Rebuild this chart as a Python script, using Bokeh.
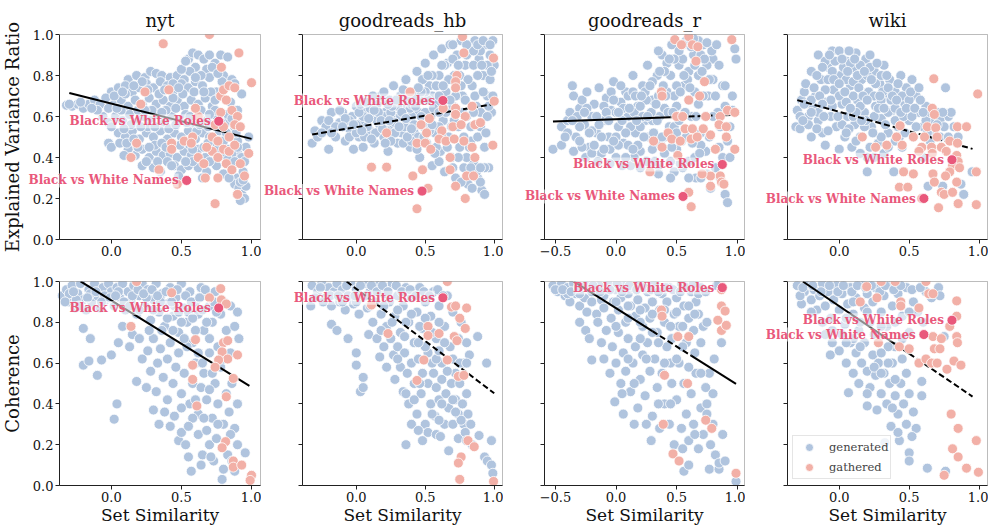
import math
from bokeh.plotting import figure
from bokeh.layouts import row, column
from bokeh.models import (Label, Legend, LegendItem, FixedTicker, Range1d, BoxAnnotation)
from bokeh.embed import file_html
from bokeh.resources import INLINE

datasets = ["nyt", "goodreads_hb", "goodreads_r", "wiki"]
metric_keys = ["evr", "coh"]
metric_names = ["Explained Variance Ratio", "Coherence"]
x_label = "Set Similarity"
y_ticks = [0.0, 0.2, 0.4, 0.6, 0.8, 1.0]
x_ticks = [-0.5, 0.0, 0.5, 1.0]
tick_text = {-0.5: "\u22120.5", 0.0: "0.0", 0.2: "0.2", 0.4: "0.4", 0.5: "0.5", 0.6: "0.6", 0.8: "0.8", 1.0: "1.0"}
legend_labels = ["generated", "gathered"]

# ---------------- data: (set similarity, metric) ----------------
nyt_evr_generated = [
    (0.12,0.78),(0.18,0.8),(0.24,0.79),(0.28,0.82),(0.32,0.81),(0.36,0.8),(0.42,0.79),(0.47,0.8),(0.52,0.78),
    (0.55,0.88),(0.58,0.91),(0.62,0.9),(0.66,0.88),(0.7,0.9),(0.74,0.86),(0.78,0.9),(0.83,0.89),(0.6,0.84),
    (0.68,0.83),(0.8,0.8),(0.86,0.78),
    (0.0,0.72),(0.05,0.74),(0.1,0.75),(0.15,0.72),(0.2,0.74),(0.25,0.76),(0.3,0.74),(0.35,0.77),(0.4,0.75),
    (0.45,0.73),(0.5,0.76),(0.55,0.74),(0.6,0.77),(0.65,0.75),(0.7,0.79),(0.75,0.72),(0.82,0.75),(0.88,0.76),(0.93,0.71),
    (-0.32,0.655),(-0.28,0.65),(-0.24,0.66),(-0.2,0.64),(-0.16,0.66),(-0.12,0.68),(-0.08,0.66),(-0.04,0.69),(0.02,0.66),
    (0.07,0.68),(0.12,0.65),(0.17,0.68),(0.22,0.66),(0.27,0.69),(0.32,0.66),(0.37,0.68),(0.42,0.65),(0.47,0.68),
    (0.52,0.65),(0.57,0.68),(0.62,0.66),(0.67,0.69),(0.72,0.65),(0.85,0.67),(0.9,0.63),
    (-0.06,0.6),(-0.02,0.57),(0.03,0.6),(0.08,0.58),(0.13,0.61),(0.18,0.57),(0.23,0.6),(0.28,0.58),(0.33,0.61),
    (0.38,0.57),(0.43,0.6),(0.48,0.58),(0.53,0.61),(0.58,0.56),(0.63,0.6),(0.68,0.58),(0.73,0.61),(0.82,0.57),(0.88,0.55),
    (0.05,0.52),(0.1,0.5),(0.15,0.53),(0.2,0.49),(0.25,0.52),(0.3,0.5),(0.35,0.53),(0.4,0.49),(0.45,0.52),(0.5,0.5),
    (0.55,0.53),(0.6,0.49),(0.65,0.52),(0.7,0.5),(0.75,0.47),(0.85,0.5),(0.9,0.48),(0.98,0.5),(-0.02,0.47),(0.0,0.45),
    (0.12,0.44),(0.17,0.41),(0.22,0.44),(0.27,0.4),(0.32,0.43),(0.37,0.41),(0.42,0.42),(0.47,0.4),(0.52,0.43),
    (0.57,0.41),(0.62,0.44),(0.67,0.4),(0.72,0.43),(0.78,0.41),(0.84,0.44),(0.9,0.42),(0.96,0.45),(0.14,0.4),
    (0.22,0.36),(0.3,0.35),(0.35,0.33),(0.45,0.36),(0.5,0.34),(0.55,0.36),(0.62,0.35),(0.68,0.33),(0.75,0.36),
    (0.8,0.32),(0.86,0.35),(0.9,0.3),(0.94,0.33),
    (0.88,0.27),(0.91,0.25),(0.93,0.22),(0.95,0.2),(0.92,0.19),(0.96,0.26),(0.9,0.22),
    (0.02,0.7),(0.07,0.63),(0.1,0.71),(0.14,0.56),(0.19,0.63),(0.22,0.77),(0.26,0.55),(0.29,0.63),(0.31,0.46),
    (0.34,0.71),(0.39,0.63),(0.41,0.54),(0.44,0.69),(0.46,0.56),(0.49,0.46),(0.51,0.71),(0.54,0.57),(0.56,0.46),
    (0.59,0.72),(0.61,0.53),(0.64,0.63),(0.66,0.45),(0.69,0.55),(0.71,0.72),(0.74,0.63),(0.77,0.53),(0.8,0.48),
    (0.83,0.61),(0.86,0.42),(0.89,0.52),(0.93,0.4),(0.79,0.77),(0.72,0.84),(0.64,0.8),(0.56,0.82),(0.5,0.83),
    (0.44,0.76),(0.38,0.73),(0.27,0.45),(0.36,0.47),(0.25,0.38),(0.4,0.38),(0.58,0.38),(0.7,0.38),(0.83,0.39),
    (0.95,0.38),(-0.1,0.63),(-0.02,0.64),(0.06,0.47),(0.09,0.41),(0.19,0.45),(0.48,0.31),(0.65,0.3),(0.84,0.3),(0.92,0.28),
    (0.0,0.55),(0.04,0.64),(0.09,0.54),(0.11,0.47),(0.16,0.49),(0.21,0.55),(0.24,0.63),(0.26,0.73),(0.31,0.55),
    (0.33,0.38),(0.36,0.62),(0.39,0.45),(0.43,0.36),(0.46,0.64),(0.48,0.74),(0.53,0.38),(0.56,0.6),(0.58,0.44),
    (0.63,0.56),(0.66,0.72),(0.69,0.47),(0.7,0.61),(0.74,0.68),(0.76,0.44),(0.78,0.57),(0.82,0.52),(0.86,0.59),
    (0.88,0.38),(0.9,0.45),(0.94,0.29),(0.6,0.79),(0.53,0.87),(0.76,0.81),(0.16,0.75),(0.08,0.72),(-0.14,0.64),
    (-0.22,0.67),(-0.3,0.66),
]
nyt_evr_gathered = [
    (0.70,1.0),(0.37,0.955),(0.91,0.91),(1.0,0.765),(0.785,0.84),(0.24,0.72),(0.41,0.73),(0.21,0.66),(0.62,0.6),
    (0.6,0.64),(0.78,0.7),(0.8,0.73),(0.84,0.75),(0.88,0.74),(0.82,0.68),(0.86,0.63),(0.9,0.6),(0.78,0.62),
    (0.74,0.56),(0.8,0.55),(0.84,0.5),(0.88,0.56),(0.92,0.55),(0.72,0.5),(0.76,0.48),(0.8,0.44),(0.84,0.43),
    (0.88,0.46),(0.72,0.43),(0.68,0.45),(0.76,0.4),(0.82,0.37),(0.86,0.34),(0.92,0.37),(0.95,0.31),(0.98,0.42),
    (0.18,0.47),(0.14,0.4),(0.34,0.34),(0.43,0.47),(0.43,0.44),(0.52,0.48),(0.58,0.5),(0.57,0.47),(0.47,0.27),
    (0.74,0.175),(0.76,0.3),(0.67,0.3),(0.9,0.22),(0.62,0.4),(0.66,0.37),
]
goodreads_hb_evr_generated = [
    (-0.32,0.47),(-0.3,0.53),(-0.28,0.5),(-0.25,0.58),(-0.22,0.55),(-0.2,0.44),(-0.18,0.62),(-0.15,0.5),(-0.12,0.57),
    (-0.1,0.62),(-0.08,0.48),(-0.05,0.54),(-0.03,0.6),(-0.02,0.44),(0.0,0.65),(0.02,0.5),(0.04,0.57),(0.05,0.45),
    (0.07,0.62),(0.08,0.68),(0.1,0.53),(0.12,0.6),(0.13,0.47),(0.15,0.66),(0.17,0.56),(0.18,0.7),(0.2,0.5),
    (0.21,0.62),(0.23,0.43),(0.24,0.68),(0.26,0.55),(0.27,0.75),(0.29,0.6),(0.3,0.47),(0.32,0.7),(0.33,0.52),
    (0.35,0.64),(0.36,0.78),(0.38,0.58),(0.39,0.45),(0.41,0.72),(0.42,0.52),(0.44,0.82),(0.45,0.62),(0.46,0.4),
    (0.48,0.68),(0.49,0.55),(0.5,0.86),(0.51,0.47),(0.53,0.75),(0.54,0.6),(0.55,0.36),(0.56,0.9),(0.57,0.52),
    (0.58,0.67),(0.6,0.8),(0.61,0.43),(0.62,0.93),(0.63,0.58),(0.64,0.33),(0.65,0.72),(0.66,0.86),(0.67,0.5),
    (0.68,0.95),(0.69,0.4),(0.7,0.65),(0.71,0.8),(0.72,0.3),(0.73,0.9),(0.74,0.55),(0.75,0.45),(0.76,0.97),
    (0.77,0.7),(0.78,0.35),(0.79,0.85),(0.8,0.6),(0.81,0.27),(0.82,0.93),(0.83,0.48),(0.84,0.75),(0.85,0.38),
    (0.86,0.97),(0.87,0.65),(0.88,0.3),(0.89,0.88),(0.9,0.55),(0.91,0.24),(0.92,0.8),(0.93,0.45),(0.94,0.95),
    (0.95,0.7),(0.96,0.35),(0.97,0.9),(0.98,0.62),(0.99,0.97),(1.0,0.85),(0.93,0.22),(0.9,0.28),(0.87,0.33),
    (-0.05,0.58),(0.0,0.56),(0.05,0.6),(0.1,0.64),(0.15,0.58),(0.2,0.6),(0.25,0.62),(0.3,0.65),(0.35,0.55),
    (0.4,0.6),(0.45,0.5),(0.5,0.62),(0.55,0.7),(0.6,0.55),(0.02,0.62),(0.08,0.55),(0.14,0.52),(0.22,0.53),
    (0.28,0.52),(0.34,0.47),(0.4,0.48),(0.12,0.7),(0.2,0.72),(0.26,0.65),(0.32,0.6),(0.37,0.68),(0.43,0.7),
    (0.48,0.78),(0.52,0.68),(0.58,0.75),(0.64,0.85),(0.7,0.88),(0.75,0.8),(0.8,0.9),(0.85,0.85),(0.9,0.92),
    (0.95,0.85),(0.6,0.38),(0.7,0.35),(0.8,0.4),(0.76,0.28),(0.84,0.25),
    (-0.25,0.52),(-0.2,0.58),(-0.15,0.55),(-0.12,0.63),(-0.08,0.59),(-0.05,0.5),(0.0,0.52),(0.03,0.66),(0.06,0.5),
    (0.09,0.59),(0.11,0.49),(0.16,0.62),(0.19,0.54),(0.23,0.66),(0.25,0.48),(0.28,0.57),(0.31,0.55),(0.34,0.73),
    (0.37,0.5),(0.39,0.64),(0.42,0.56),(0.44,0.44),(0.47,0.6),(0.5,0.72),(0.53,0.53),(0.56,0.64),(0.58,0.45),
    (0.6,0.7),(0.62,0.5),(0.65,0.62),(0.67,0.78),(0.69,0.55),(0.72,0.7),(0.74,0.85),(0.77,0.62),(0.78,0.5),
    (0.81,0.78),(0.83,0.55),(0.86,0.7),(0.88,0.8),(0.9,0.62),(0.92,0.72),(0.93,0.35),(0.95,0.6),(0.97,0.78),
    (0.99,0.7),(0.85,0.92),(0.88,0.95),(0.92,0.97),(0.97,0.95),(0.55,0.8),(0.47,0.72),(0.4,0.66),
    (-0.18,0.52),(-0.1,0.55),(-0.02,0.56),(0.04,0.53),(0.07,0.67),(0.13,0.63),(0.18,0.58),(0.21,0.47),(0.24,0.58),
    (0.29,0.68),(0.33,0.62),(0.36,0.59),(0.4,0.54),(0.43,0.65),(0.45,0.74),(0.49,0.5),(0.52,0.8),(0.55,0.56),
    (0.57,0.42),(0.6,0.62),(0.63,0.75),(0.66,0.45),(0.68,0.68),(0.71,0.58),(0.74,0.4),(0.76,0.75),(0.79,0.68),
    (0.82,0.45),(0.85,0.62),(0.88,0.5),(0.91,0.85),(0.94,0.52),(0.96,0.65),(0.98,0.82),(0.9,0.35),(0.83,0.35),
    (0.62,0.85),(0.7,0.95),(0.8,0.95),
]
goodreads_hb_evr_gathered = [
    (0.77,0.99),(0.78,0.91),(0.995,0.885),(0.73,0.8),(0.72,0.77),(0.72,0.74),(0.39,0.72),(1.0,0.675),(0.63,0.64),
    (0.72,0.64),(0.84,0.65),(0.53,0.59),(0.72,0.61),(0.79,0.6),(0.47,0.56),(0.22,0.52),(0.51,0.52),(0.62,0.53),
    (0.7,0.55),(0.76,0.56),(0.86,0.56),(0.9,0.57),(0.44,0.47),(0.5,0.47),(0.6,0.49),(0.65,0.48),(0.71,0.49),
    (0.78,0.48),(0.84,0.45),(0.99,0.46),(0.54,0.44),(0.68,0.4),(0.86,0.4),(0.11,0.353),(0.22,0.353),(0.41,0.31),
    (0.48,0.34),(0.68,0.34),(0.8,0.31),(0.85,0.31),(0.52,0.25),(0.72,0.26),(0.79,0.2),(0.44,0.15),
]
goodreads_r_evr_generated = [
    (-0.52,0.44),(-0.45,0.46),(-0.45,0.55),(-0.4,0.58),(-0.36,0.75),(-0.35,0.7),(-0.33,0.5),(-0.3,0.64),(-0.28,0.68),
    (-0.26,0.56),(-0.24,0.72),(-0.22,0.45),(-0.2,0.6),(-0.18,0.66),(-0.16,0.52),(-0.14,0.74),(-0.12,0.42),(-0.1,0.58),
    (-0.08,0.69),(-0.06,0.5),(-0.04,0.63),(-0.02,0.77),(0.0,0.4),(0.02,0.55),(0.04,0.67),(0.06,0.47),(0.08,0.72),
    (0.1,0.6),(0.12,0.36),(0.14,0.8),(0.16,0.52),(0.18,0.65),(0.2,0.43),(0.22,0.75),(0.24,0.58),(0.26,0.85),
    (0.28,0.35),(0.3,0.68),(0.32,0.5),(0.34,0.8),(0.36,0.6),(0.38,0.9),(0.4,0.42),(0.42,0.72),(0.44,0.55),
    (0.46,0.95),(0.48,0.33),(0.5,0.65),(0.52,0.85),(0.54,0.48),(0.56,0.75),(0.58,0.97),(0.6,0.38),(0.62,0.6),
    (0.64,0.9),(0.66,0.3),(0.68,0.8),(0.7,0.52),(0.72,0.95),(0.74,0.43),(0.76,0.7),(0.78,0.25),(0.8,0.88),
    (0.82,0.35),(0.84,0.62),(0.86,0.3),(0.88,0.75),(0.9,0.22),(0.92,0.18),(0.94,0.55),(0.96,0.7),(0.98,0.93),
    (0.99,0.88),(0.96,0.63),
    (-0.4,0.52),(-0.3,0.55),(-0.2,0.53),(-0.1,0.65),(0.0,0.62),(0.05,0.58),(0.1,0.7),(0.15,0.62),(0.2,0.55),
    (0.25,0.68),(0.3,0.58),(0.35,0.7),(0.4,0.64),(0.45,0.8),(0.5,0.75),(0.55,0.88),(0.6,0.82),(0.65,0.72),
    (0.7,0.9),(0.75,0.85),(-0.35,0.43),(-0.25,0.4),(-0.15,0.38),(-0.05,0.37),(0.05,0.36),(0.15,0.4),(0.25,0.38),
    (0.35,0.36),(0.45,0.38),(0.55,0.35),(0.65,0.4),(0.75,0.32),(0.1,0.46),(0.3,0.44),(0.5,0.44),(0.7,0.46),
    (0.0,0.5),(0.2,0.65),(0.4,0.5),(0.6,0.68),(0.8,0.78),(0.62,0.94),(0.68,0.97),(0.52,0.92),(0.42,0.86),
    (0.48,0.55),(0.58,0.5),(0.35,0.92),(0.3,0.77),(0.14,0.72),(-0.04,0.72),
    (-0.38,0.62),(-0.32,0.6),(-0.28,0.45),(-0.24,0.64),(-0.2,0.42),(-0.16,0.6),(-0.12,0.5),(-0.08,0.62),(-0.05,0.44),
    (-0.02,0.68),(0.02,0.46),(0.06,0.64),(0.08,0.4),(0.12,0.55),(0.16,0.7),(0.18,0.46),(0.22,0.6),(0.24,0.72),
    (0.27,0.5),(0.29,0.62),(0.32,0.38),(0.34,0.58),(0.37,0.46),(0.39,0.75),(0.43,0.62),(0.46,0.45),(0.48,0.7),
    (0.52,0.58),(0.53,0.37),(0.57,0.62),(0.59,0.78),(0.63,0.47),(0.66,0.6),(0.69,0.42),(0.72,0.7),(0.74,0.6),
    (0.77,0.5),(0.79,0.92),(0.82,0.7),(0.85,0.85),(0.88,0.4),(0.9,0.65),(0.92,0.48),(0.94,0.4),(0.85,0.45),
    (0.7,0.3),(0.6,0.3),(0.45,0.3),(0.35,0.32),(0.2,0.35),(0.55,0.95),(0.64,0.98),(0.75,0.96),(0.48,0.88),(0.4,0.82),
    (-0.42,0.5),(-0.36,0.58),(-0.3,0.48),(-0.26,0.62),(-0.22,0.52),(-0.18,0.46),(-0.14,0.56),(-0.1,0.44),(-0.06,0.58),
    (-0.02,0.48),(0.02,0.62),(0.04,0.75),(0.08,0.52),(0.11,0.64),(0.14,0.44),(0.17,0.58),(0.21,0.7),(0.23,0.5),
    (0.26,0.6),(0.28,0.75),(0.31,0.52),(0.33,0.66),(0.36,0.82),(0.38,0.5),(0.41,0.7),(0.44,0.88),(0.47,0.62),
    (0.5,0.52),(0.53,0.72),(0.56,0.8),(0.61,0.74),(0.65,0.85),(0.68,0.66),(0.71,0.82),(0.73,0.88),(0.77,0.78),
    (0.8,0.6),(0.83,0.95),(0.86,0.55),(0.9,0.75),
]
goodreads_r_evr_gathered = [
    (0.485,0.975),(0.54,0.95),(0.6,0.99),(0.63,0.95),(0.675,0.94),(0.66,0.87),(0.955,0.975),(0.73,0.77),(0.375,0.72),
    (0.38,0.70),(0.6,0.68),(0.69,0.70),(0.5,0.6),(0.55,0.6),(0.74,0.6),(0.86,0.6),(0.92,0.63),(0.98,0.62),
    (0.85,0.56),(0.91,0.55),(0.57,0.54),(0.63,0.54),(0.72,0.54),(0.43,0.52),(0.31,0.48),(0.38,0.45),(0.46,0.49),
    (0.53,0.48),(0.62,0.49),(0.67,0.5),(0.78,0.51),(0.82,0.44),(0.91,0.5),(0.98,0.44),(0.51,0.41),(0.28,0.33),
    (0.78,0.31),(0.86,0.31),(0.87,0.28),(0.89,0.27),(0.78,0.26),(0.6,0.23),(0.62,0.16),(0.71,0.32),
]
wiki_evr_generated = [
    (-0.31,0.55),(-0.28,0.54),(-0.3,0.63),(-0.27,0.68),(-0.25,0.72),(-0.24,0.76),(-0.22,0.6),(-0.2,0.5),(-0.19,0.65),
    (-0.17,0.7),(-0.15,0.9),(-0.15,0.58),(-0.13,0.78),(-0.12,0.52),(-0.1,0.67),(-0.1,0.46),(-0.08,0.84),(-0.06,0.6),
    (-0.05,0.92),(-0.04,0.73),(-0.02,0.55),(0.0,0.92),(0.0,0.44),(0.01,0.8),(0.02,0.66),(0.04,0.5),(0.05,0.87),
    (0.06,0.6),(0.08,0.75),(0.09,0.45),(0.1,0.83),(0.11,0.56),(0.12,0.91),(0.13,0.68),(0.15,0.5),(0.16,0.78),
    (0.18,0.62),(0.19,0.88),(0.2,0.4),(0.21,0.72),(0.22,0.9),(0.23,0.55),(0.25,0.82),(0.26,0.65),(0.28,0.47),
    (0.29,0.76),(0.3,0.59),(0.32,0.85),(0.33,0.7),(0.35,0.52),(0.36,0.78),(0.38,0.63),(0.39,0.33),(0.4,0.72),
    (0.42,0.55),(0.44,0.8),(0.45,0.45),(0.47,0.66),(0.48,0.74),(0.5,0.58),(0.52,0.78),(0.53,0.5),(0.55,0.7),
    (0.57,0.62),(0.6,0.55),(0.62,0.65),(0.65,0.48),(0.67,0.58),(0.7,0.62),(0.72,0.5),(0.76,0.74),(0.78,0.6),
    (0.8,0.62),(0.82,0.55),(0.85,0.5),(0.635,0.26),(0.74,0.26),(0.89,0.22),(0.87,0.27),(0.95,0.33),(0.6,0.4),(0.2,0.33),
    (-0.2,0.68),(-0.1,0.73),(0.0,0.7),(0.05,0.78),(0.1,0.7),(0.15,0.65),(0.2,0.8),(0.25,0.7),(0.3,0.68),
    (-0.05,0.82),(0.05,0.67),(0.15,0.85),(0.25,0.6),(-0.15,0.62),(-0.05,0.65),(0.1,0.6),(0.3,0.8),(0.35,0.62),
    (0.4,0.58),(0.45,0.7),(0.02,0.56),(-0.08,0.53),(0.12,0.48),(0.3,0.5),(0.4,0.48),(0.18,0.55),(0.25,0.4),
    (0.32,0.42),(-0.2,0.82),(-0.1,0.87),(0.07,0.92),
    (-0.28,0.6),(-0.25,0.66),(-0.22,0.56),(-0.18,0.74),(-0.16,0.54),(-0.14,0.7),(-0.12,0.84),(-0.11,0.6),(-0.08,0.78),
    (-0.06,0.68),(-0.03,0.87),(-0.01,0.6),(0.03,0.84),(0.04,0.72),(0.07,0.54),(0.08,0.86),(0.1,0.77),(0.12,0.62),
    (0.14,0.74),(0.17,0.7),(0.19,0.58),(0.2,0.68),(0.22,0.84),(0.24,0.52),(0.26,0.76),(0.28,0.64),(0.31,0.72),
    (0.33,0.56),(0.35,0.74),(0.37,0.68),(0.4,0.64),(0.42,0.76),(0.43,0.5),(0.46,0.6),(0.5,0.68),(0.52,0.6),
    (0.55,0.55),(0.58,0.68),(0.62,0.58),(0.65,0.62),(0.68,0.52),(0.72,0.58),(0.75,0.55),(0.78,0.5),(0.22,0.45),
    (0.35,0.45),(0.47,0.52),(0.15,0.42),(0.05,0.52),
    (-0.26,0.58),(-0.2,0.62),(-0.16,0.8),(-0.12,0.66),(-0.07,0.9),(-0.04,0.78),(0.0,0.76),(0.02,0.88),(0.06,0.82),
    (0.08,0.64),(0.11,0.88),(0.13,0.8),(0.16,0.58),(0.18,0.82),(0.23,0.78),(0.27,0.86),(0.29,0.7),(0.32,0.64),
    (0.34,0.8),(0.38,0.7),(0.41,0.68),(0.44,0.62),(0.48,0.64),(0.51,0.72),(0.54,0.64),(0.57,0.74),(0.6,0.62),
    (0.63,0.52),(0.7,0.56),(0.74,0.62),
]
wiki_evr_gathered = [
    (0.676,0.784),(0.99,0.71),(0.665,0.64),(0.68,0.61),(0.435,0.555),(0.63,0.55),(0.69,0.545),(0.845,0.55),(0.91,0.55),
    (0.165,0.5),(0.41,0.5),(0.53,0.5),(0.61,0.5),(0.7,0.5),(0.79,0.48),(0.26,0.45),(0.34,0.46),(0.45,0.46),
    (0.59,0.45),(0.66,0.45),(0.73,0.45),(0.845,0.47),(0.57,0.43),(0.665,0.42),(0.765,0.43),(0.84,0.41),(0.85,0.38),
    (0.81,0.36),(0.46,0.33),(0.53,0.32),(0.79,0.33),(0.86,0.35),(0.98,0.33),(0.67,0.32),(0.68,0.28),(0.76,0.31),
    (0.84,0.28),(0.73,0.23),(0.75,0.22),(0.81,0.23),(0.43,0.255),(0.49,0.255),(0.59,0.20),(0.71,0.155),(0.85,0.175),
    (0.98,0.17),
]
nyt_coh_generated = [
    (-0.35,0.93),(-0.32,0.96),(-0.3,0.9),(-0.28,0.98),(-0.26,0.87),(-0.24,0.94),(-0.22,0.99),(-0.2,0.91),(-0.18,0.86),
    (-0.16,0.96),(-0.14,0.9),(-0.12,0.99),(-0.1,0.93),(-0.08,0.87),(-0.06,0.97),(-0.04,0.91),(-0.02,0.99),(0.0,0.95),
    (0.02,0.88),(0.04,0.97),(0.06,0.92),(0.08,0.99),(0.1,0.86),(0.12,0.95),(0.14,0.9),(0.16,0.98),(0.18,0.84),
    (0.2,0.93),(0.22,0.99),(0.24,0.88),(0.26,0.96),(0.28,0.81),(0.3,0.91),(0.32,0.99),(0.34,0.85),(0.36,0.94),
    (0.38,0.78),(0.4,0.89),(0.42,0.97),(0.44,0.83),(0.46,0.92),(0.48,0.75),(0.5,0.99),(0.52,0.87),(0.54,0.8),
    (0.56,0.95),(0.58,0.7),(0.6,0.9),(0.62,0.84),(0.64,0.97),(0.66,0.76),(0.68,0.93),(0.7,0.88),(0.72,0.8),
    (0.74,0.95),(0.76,0.68),(0.78,0.84),(0.8,0.9),(0.82,0.76),(0.85,0.88),(0.9,0.85),(0.88,0.78),
    (-0.2,0.77),(-0.2,0.59),(-0.16,0.61),(-0.15,0.72),(-0.1,0.54),(-0.07,0.615),(0.0,0.64),(0.05,0.7),(0.04,0.4),
    (0.02,0.325),(0.13,0.68),(0.18,0.51),(0.25,0.48),(0.32,0.46),(0.08,0.78),(0.15,0.74),(0.2,0.72),(0.22,0.62),
    (0.26,0.66),(0.28,0.56),(0.3,0.72),(0.33,0.6),(0.35,0.67),(0.37,0.53),(0.4,0.62),(0.42,0.7),(0.44,0.5),
    (0.46,0.58),(0.48,0.65),(0.5,0.45),(0.52,0.55),(0.54,0.68),(0.56,0.4),(0.58,0.5),(0.6,0.6),(0.62,0.35),
    (0.64,0.48),(0.66,0.55),(0.68,0.42),(0.7,0.65),(0.72,0.33),(0.74,0.5),(0.76,0.4),(0.78,0.58),(0.8,0.3),
    (0.82,0.45),(0.84,0.36),(0.86,0.5),(0.88,0.28),(0.9,0.4),(0.91,0.72),(0.38,0.36),(0.42,0.29),(0.45,0.34),
    (0.48,0.22),(0.5,0.26),(0.53,0.2),(0.58,0.33),(0.62,0.25),(0.65,0.15),(0.68,0.27),(0.7,0.2),(0.73,0.12),
    (0.75,0.23),(0.57,0.07),(0.64,0.1),(0.71,0.14),(0.79,0.03),(0.8,0.08),(0.955,0.16),(0.83,0.15),(0.86,0.12),
    (0.88,0.07),(0.3,0.37),(0.34,0.3),(0.4,0.42),(0.55,0.14),
    (-0.3,0.94),(-0.25,0.91),(-0.15,0.94),(-0.05,0.93),(0.05,0.95),(0.15,0.93),(0.25,0.92),(0.35,0.9),(0.45,0.88),
    (0.55,0.85),(0.65,0.86),(0.75,0.85),(0.2,0.86),(0.3,0.86),(0.4,0.82),(0.5,0.8),(0.6,0.76),(0.7,0.72),
    (0.62,0.65),(0.52,0.72),(0.44,0.76),(0.36,0.76),(0.27,0.76),(0.65,0.6),(0.72,0.55),(0.8,0.62),(0.85,0.65),
    (0.76,0.3),(0.66,0.33),(0.55,0.29),(0.6,0.42),(0.7,0.47),(0.5,0.38),(0.85,0.25),(0.9,0.2),
    (-0.33,0.9),(-0.27,0.95),(-0.23,0.88),(-0.17,0.92),(-0.11,0.95),(-0.07,0.9),(-0.01,0.92),(0.03,0.93),(0.09,0.9),
    (0.13,0.88),(0.19,0.96),(0.23,0.94),(0.29,0.96),(0.33,0.93),(0.39,0.95),(0.43,0.9),(0.47,0.96),(0.53,0.93),
    (0.57,0.9),(0.63,0.92),(0.67,0.96),(0.73,0.9),(0.58,0.82),(0.68,0.8),(0.48,0.85),
]
nyt_coh_gathered = [
    (0.18,1.0),(0.43,0.945),(0.70,0.92),(0.78,0.965),(0.785,0.91),(0.82,0.89),(0.14,0.78),(0.6,0.715),(0.8,0.70),
    (0.83,0.71),(0.79,0.655),(0.83,0.62),(0.765,0.615),(0.74,0.58),(0.9,0.64),(0.87,0.525),(0.58,0.59),(0.58,0.52),
    (0.82,0.435),(0.61,0.39),(0.815,0.215),(0.79,0.185),(0.87,0.12),(0.87,0.09),(0.93,0.1),(1.0,0.05),(0.99,0.025),
]
goodreads_hb_coh_generated = [
    (-0.32,0.98),(-0.33,0.88),(-0.28,0.95),(-0.25,0.99),(-0.22,0.92),(-0.2,0.97),(-0.18,0.88),(-0.16,0.95),(-0.14,0.99),
    (-0.12,0.9),(-0.1,0.96),(-0.08,0.86),(-0.06,0.93),(-0.04,0.99),(-0.02,0.89),(0.0,0.96),(0.02,0.84),(0.04,0.92),
    (0.06,0.99),(0.08,0.87),(0.1,0.95),(0.12,0.8),(0.14,0.9),(0.16,0.98),(0.18,0.84),(0.2,0.94),(0.22,0.78),
    (0.24,0.9),(0.26,0.99),(0.28,0.83),(0.3,0.93),(0.32,0.75),(0.34,0.88),(0.36,0.97),(0.38,0.8),(0.4,0.92),
    (0.42,0.7),(0.44,0.85),(0.46,0.97),(0.48,0.77),(0.5,0.9),(0.52,0.65),(0.54,0.83),(0.56,0.95),(0.58,0.72),
    (0.6,0.88),(0.62,0.6),(0.64,0.78),(0.66,0.93),(0.68,0.68),(0.7,0.85),(0.72,0.55),(0.74,0.72),(0.76,0.8),
    (0.78,0.6),(0.8,0.7),(0.82,0.64),(0.88,0.73),
    (-0.18,0.79),(-0.14,0.76),(-0.06,0.72),(0.0,0.65),(0.0,0.59),(0.05,0.53),(0.03,0.46),(0.05,0.48),(0.09,0.74),
    (0.17,0.63),
    (0.15,0.72),(0.2,0.68),(0.22,0.58),(0.25,0.72),(0.27,0.64),(0.28,0.52),(0.3,0.68),(0.32,0.58),(0.34,0.46),
    (0.35,0.65),(0.37,0.55),(0.38,0.4),(0.4,0.6),(0.42,0.5),(0.44,0.35),(0.45,0.62),(0.47,0.45),(0.48,0.55),
    (0.5,0.3),(0.52,0.5),(0.54,0.4),(0.55,0.6),(0.57,0.34),(0.58,0.48),(0.6,0.42),(0.62,0.52),(0.64,0.3),
    (0.65,0.45),(0.67,0.38),(0.69,0.5),(0.7,0.3),(0.72,0.42),(0.74,0.35),(0.75,0.5),(0.77,0.4),(0.78,0.3),
    (0.8,0.45),(0.81,0.35),(0.83,0.3),(0.36,0.2),(0.48,0.22),(0.52,0.26),(0.58,0.25),(0.61,0.24),(0.67,0.17),
    (0.74,0.23),(0.79,0.26),(0.8,0.22),(0.89,0.245),(0.84,0.2),(0.93,0.14),(0.95,0.12),(0.98,0.1),(0.99,0.06),
    (0.98,0.22),(0.945,0.6),(0.4,0.3),(0.45,0.27),(0.55,0.35),(0.6,0.32),(0.7,0.42),(0.76,0.32),(0.42,0.42),
    (-0.3,0.92),(-0.24,0.9),(-0.1,0.9),(0.0,0.9),(0.1,0.88),(0.2,0.88),(0.3,0.86),(0.4,0.84),(0.5,0.82),
    (0.6,0.8),(0.64,0.7),(0.55,0.75),(0.46,0.78),(0.36,0.8),(0.26,0.8),(0.18,0.76),(0.5,0.68),(0.58,0.62),
    (0.7,0.62),(0.75,0.6),(0.66,0.56),(0.56,0.55),(0.46,0.5),(0.36,0.45),(0.62,0.4),(0.72,0.36),(0.8,0.6),
    (-0.26,0.97),(-0.19,0.93),(-0.13,0.93),(-0.07,0.98),(-0.01,0.93),(0.03,0.98),(0.07,0.93),(0.11,0.98),(0.15,0.95),
    (0.19,0.98),(0.23,0.95),(0.29,0.98),(0.33,0.95),(0.39,0.96),(0.43,0.93),(0.49,0.95),(0.53,0.93),(0.59,0.96),
    (0.63,0.93),(0.45,0.7),(0.35,0.73),(0.3,0.62),(0.6,0.66),
]
goodreads_hb_coh_gathered = [
    (0.66,1.0),(0.11,0.885),(0.69,0.875),(0.72,0.88),(0.8,0.87),(0.75,0.82),(0.79,0.77),(0.52,0.78),(0.52,0.735),
    (0.6,0.745),(0.23,0.745),(0.71,0.73),(0.73,0.71),(0.66,0.615),(0.49,0.615),(0.44,0.515),(0.74,0.535),(0.78,0.54),
    (0.81,0.22),(0.855,0.19),(0.76,0.14),(0.74,0.11),(0.75,0.03),(0.995,0.02),
]
goodreads_r_coh_generated = [
    (-0.52,0.98),(-0.48,0.95),(-0.45,0.99),(-0.42,0.93),(-0.4,0.97),(-0.38,0.9),(-0.35,0.99),(-0.33,0.94),(-0.3,0.88),
    (-0.28,0.97),(-0.26,0.92),(-0.24,0.85),(-0.22,0.99),(-0.2,0.9),(-0.18,0.95),(-0.16,0.84),(-0.14,0.98),(-0.12,0.91),
    (-0.1,0.87),(-0.08,0.95),(-0.06,0.99),(-0.04,0.82),(-0.02,0.9),(0.0,0.96),(0.02,0.86),(0.04,0.92),(0.06,0.99),
    (0.08,0.8),(0.1,0.94),(0.12,0.88),(0.14,0.97),(0.16,0.83),(0.18,0.91),(0.2,0.99),(0.22,0.78),(0.24,0.87),
    (0.26,0.95),(0.28,0.82),(0.3,0.9),(0.32,0.99),(0.34,0.75),(0.36,0.86),(0.38,0.94),(0.4,0.8),(0.42,0.9),
    (0.44,0.97),(0.46,0.72),(0.48,0.84),(0.5,0.92),(0.52,0.78),(0.54,0.99),(0.56,0.88),(0.58,0.7),(0.6,0.82),
    (0.62,0.95),(0.64,0.76),(0.66,0.9),(0.68,0.84),(0.7,0.97),(0.72,0.78),(0.75,0.8),(0.81,0.62),(0.87,0.7),(0.83,0.98),
    (-0.3,0.8),(-0.25,0.76),(-0.2,0.615),(-0.22,0.72),(-0.15,0.8),(-0.12,0.7),(-0.1,0.62),(-0.08,0.76),(-0.05,0.55),
    (-0.03,0.68),(-0.01,0.41),(0.0,0.6),(0.02,0.75),(0.04,0.5),(0.06,0.35),(0.06,0.65),(0.08,0.56),(0.1,0.72),
    (0.12,0.46),(0.14,0.6),(0.16,0.68),(0.18,0.38),(0.2,0.52),(0.22,0.64),(0.24,0.44),(0.26,0.7),(0.28,0.56),
    (0.29,0.22),(0.3,0.34),(0.32,0.62),(0.34,0.48),(0.36,0.28),(0.38,0.55),(0.4,0.4),(0.42,0.68),(0.44,0.3),
    (0.46,0.5),(0.48,0.2),(0.5,0.42),(0.52,0.6),(0.54,0.28),(0.56,0.07),(0.56,0.5),(0.58,0.35),(0.6,0.1),
    (0.6,0.22),(0.62,0.45),(0.64,0.3),(0.66,0.55),(0.68,0.18),(0.7,0.38),(0.72,0.25),(0.74,0.48),(0.75,0.4),
    (0.75,0.35),(0.77,0.55),(0.77,0.08),(0.78,0.2),(0.8,0.3),(0.82,0.15),(0.85,0.08),(0.85,0.11),(0.88,0.25),
    (0.9,0.12),(0.99,0.02),(0.15,0.3),(0.25,0.3),(0.35,0.4),(0.45,0.6),(0.55,0.68),(0.65,0.65),(0.2,0.8),
    (0.3,0.75),(0.1,0.82),(0.0,0.78),
    (-0.4,0.94),(-0.3,0.94),(-0.2,0.95),(-0.1,0.93),(0.0,0.9),(0.1,0.88),(0.2,0.86),(0.3,0.84),(0.4,0.86),
    (0.5,0.85),(0.6,0.88),(0.65,0.84),(0.55,0.78),(0.45,0.78),(0.35,0.7),(0.25,0.62),(0.15,0.5),(0.05,0.45),
    (0.1,0.62),(0.2,0.72),(0.4,0.6),(0.5,0.62),(0.6,0.58),(0.7,0.55),(0.7,0.7),(0.8,0.45),(0.65,0.25),
    (0.55,0.18),(0.45,0.4),
    (-0.5,0.96),(-0.44,0.96),(-0.37,0.95),(-0.31,0.97),(-0.25,0.98),(-0.19,0.98),(-0.13,0.95),(-0.05,0.96),(0.01,0.99),
    (0.05,0.95),(0.11,0.98),(0.17,0.96),(0.23,0.97),(0.29,0.96),(0.35,0.95),(0.41,0.97),(0.47,0.96),(0.53,0.95),
    (0.58,0.97),(0.64,0.99),(0.68,0.94),(0.74,0.95),
]
goodreads_r_coh_gathered = [
    (0.87,0.96),(0.87,0.88),(0.9,0.855),(0.84,0.81),(0.87,0.76),(0.91,0.785),(0.375,0.86),(0.38,0.83),(0.51,0.73),
    (0.6,0.73),(0.4,0.54),(0.59,0.5),(0.74,0.32),(0.79,0.28),(0.39,0.3),(0.47,0.155),(0.52,0.12),(0.99,0.06),
]
wiki_coh_generated = [
    (-0.3,0.98),(-0.27,0.89),(-0.25,0.95),(-0.22,0.99),(-0.2,0.91),(-0.18,0.96),(-0.16,0.86),(-0.14,0.93),(-0.12,0.99),
    (-0.1,0.88),(-0.08,0.95),(-0.06,0.82),(-0.04,0.91),(-0.02,0.98),(0.0,0.86),(0.02,0.94),(0.04,0.79),(0.06,0.89),
    (0.08,0.97),(0.1,0.84),(0.12,0.92),(0.14,0.76),(0.16,0.99),(0.18,0.87),(0.2,0.94),(0.22,0.8),(0.24,0.9),
    (0.26,0.97),(0.28,0.72),(0.3,0.85),(0.32,0.93),(0.34,0.78),(0.36,0.99),(0.38,0.88),(0.4,0.68),(0.42,0.94),
    (0.45,0.83),(0.48,0.97),(0.5,0.75),(0.53,0.9),(0.56,0.85),(0.62,0.95),(0.66,0.92),(0.71,0.97),(0.72,0.93),
    (0.75,0.73),(0.6,0.8),
    (-0.064,0.64),(-0.1,0.74),(-0.05,0.7),(0.0,0.66),(0.02,0.74),(0.05,0.6),(0.066,0.455),(0.08,0.7),(0.1,0.55),
    (0.12,0.65),(0.14,0.5),(0.16,0.6),(0.18,0.7),(0.2,0.39),(0.2,0.56),(0.22,0.48),(0.24,0.64),(0.26,0.54),
    (0.27,0.37),(0.28,0.6),(0.3,0.45),(0.32,0.55),(0.326,0.21),(0.34,0.4),(0.36,0.5),(0.37,0.29),(0.38,0.6),
    (0.4,0.44),(0.42,0.35),(0.43,0.22),(0.44,0.5),(0.46,0.4),(0.48,0.3),(0.5,0.16),(0.5,0.12),(0.5,0.45),
    (0.53,0.36),(0.55,0.28),(0.59,0.44),(0.59,0.51),(0.63,0.085),(0.76,0.07),(0.45,0.62),(0.35,0.68),(0.25,0.74),
    (0.15,0.8),(0.42,0.26),(0.52,0.24),(0.1,0.72),(0.3,0.65),
    (-0.28,0.93),(-0.2,0.85),(-0.12,0.8),(-0.05,0.76),(0.05,0.82),(0.1,0.9),(0.2,0.85),(0.3,0.78),(0.4,0.8),
    (0.5,0.85),(0.45,0.72),(0.35,0.6),(0.25,0.58),(0.15,0.68),(0.05,0.7),(0.3,0.55),(0.4,0.52),(0.2,0.45),
    (0.38,0.38),(0.48,0.55),
    (-0.26,0.97),(-0.19,0.98),(-0.13,0.95),(-0.07,0.98),(-0.01,0.95),(0.03,0.98),(0.09,0.95),(0.13,0.98),(0.19,0.97),
    (0.23,0.98),(0.29,0.95),(0.33,0.98),(0.39,0.96),(0.44,0.98),(0.52,0.96),(0.58,0.97),
]
wiki_coh_gathered = [
    (0.196,0.975),(0.3,1.0),(0.4,1.0),(0.62,1.0),(0.15,0.9),(0.44,0.9),(0.44,0.88),(0.57,0.87),(0.64,0.94),
    (0.67,0.94),(0.84,0.905),(0.84,0.83),(0.79,0.78),(0.27,0.92),(0.28,0.7),(0.43,0.68),(0.5,0.67),(0.67,0.73),
    (0.73,0.72),(0.68,0.67),(0.72,0.67),(0.84,0.73),(0.845,0.70),(0.57,0.6),(0.62,0.62),(0.66,0.6),(0.7,0.6),
    (0.77,0.57),(0.82,0.61),(0.87,0.59),(0.8,0.35),(0.85,0.28),(0.98,0.22),(0.81,0.18),(0.85,0.14),(0.91,0.085),
    (0.995,0.065),(0.75,0.05),
]

# highlighted configurations
highlights = {
    "nyt_evr": [("Black vs White Roles", 0.766, 0.577), ("Black vs White Names", 0.537, 0.288)],
    "goodreads_hb_evr": [("Black vs White Roles", 0.628, 0.678), ("Black vs White Names", 0.477, 0.236)],
    "goodreads_r_evr": [("Black vs White Roles", 0.877, 0.366), ("Black vs White Names", 0.553, 0.21)],
    "wiki_evr": [("Black vs White Roles", 0.806, 0.389), ("Black vs White Names", 0.605, 0.20)],
    "nyt_coh": [("Black vs White Roles", 0.766, 0.87)],
    "goodreads_hb_coh": [("Black vs White Roles", 0.628, 0.92)],
    "goodreads_r_coh": [("Black vs White Roles", 0.877, 0.97)],
    "wiki_coh": [("Black vs White Roles", 0.806, 0.81), ("Black vs White Names", 0.605, 0.74)],
}

# regression fits: intercept, slope, x start, x end
fits = {
    "nyt_evr": (0.663, -0.172, -0.30, 1.00),
    "goodreads_hb_evr": (0.548, 0.113, -0.32, 1.00),
    "goodreads_r_evr": (0.587, 0.022, -0.52, 0.98),
    "wiki_evr": (0.623, -0.19, -0.30, 0.953),
    "nyt_coh": (0.907, -0.425, -0.22, 0.985),
    "goodreads_hb_coh": (0.964, -0.512, -0.07, 1.00),
    "goodreads_r_coh": (0.869, -0.375, -0.35, 0.99),
    "wiki_coh": (0.879, -0.465, -0.26, 0.953),
}

panel_data = {
    "nyt_evr": (nyt_evr_generated, nyt_evr_gathered),
    "goodreads_hb_evr": (goodreads_hb_evr_generated, goodreads_hb_evr_gathered),
    "goodreads_r_evr": (goodreads_r_evr_generated, goodreads_r_evr_gathered),
    "wiki_evr": (wiki_evr_generated, wiki_evr_gathered),
    "nyt_coh": (nyt_coh_generated, nyt_coh_gathered),
    "goodreads_hb_coh": (goodreads_hb_coh_generated, goodreads_hb_coh_gathered),
    "goodreads_r_coh": (goodreads_r_coh_generated, goodreads_r_coh_gathered),
    "wiki_coh": (wiki_coh_generated, wiki_coh_gathered),
}

# ---------------- styles / layout ----------------
SOLID, DASH = "solid", "6 3"
line_styles = {   # (break x positions, dash per piece)
    "nyt_evr": ([], [SOLID]),
    "goodreads_hb_evr": ([], [DASH]),
    "goodreads_r_evr": ([0.45], [SOLID, DASH]),
    "wiki_evr": ([], [DASH]),
    "nyt_coh": ([], [SOLID]),
    "goodreads_hb_coh": ([], [DASH]),
    "goodreads_r_coh": ([0.3, 0.62], [SOLID, DASH, SOLID]),
    "wiki_coh": ([0.5], [SOLID, DASH]),
}
x_ranges = [(-0.37, 1.064), (-0.39, 1.06), (-0.59, 1.06), (-0.37, 1.06)]
ylabel_w = 24                        # strip holding the rotated y labels
widths = [237, 242, 242, 243]        # panel figure widths (px)
left_pad = [35, 41, 41, 42]          # px left of each panel inside its figure
rows_px = [(33, 206, 28), (13, 205, 40)]  # (px above panel, panel px, px below panel)

BLUE = "#b0c4de"
PINK = "#f2b0a7"
HL = "#e9587b"
FONT = "DejaVu Serif"
SPINE = "#222222"
TXT = "#111111"


def y_range_for(r):
    top, fh, bottom = rows_px[r]
    sy = 1.0 / (fh - 1)
    return Range1d(-bottom * sy, 1 + (top + 1) * sy)


def bare_figure(W, r, x_range):
    top, fh, bottom = rows_px[r]
    p = figure(width=W, height=top + fh + bottom, x_range=x_range, y_range=y_range_for(r),
               output_backend="svg", toolbar_location=None,
               min_border_left=0, min_border_right=0, min_border_top=0, min_border_bottom=0)
    p.grid.visible = False
    p.outline_line_color = None
    p.title.visible = False
    return p


def style_axis(ax):
    ax.axis_line_color = SPINE
    ax.major_tick_line_color = SPINE
    ax.major_tick_out = 4
    ax.major_tick_in = 0
    ax.minor_tick_line_color = None
    ax.major_label_text_font = FONT
    ax.major_label_text_font_size = "13px"
    ax.major_label_text_color = TXT
    ax.major_label_standoff = 2
    ax.axis_label_text_font = FONT
    ax.axis_label_text_font_style = "normal"
    ax.axis_label_text_color = TXT
    ax.axis_label_text_font_size = "17px"
    ax.axis_label_standoff = 0


def make_ylabel(r):
    p = bare_figure(ylabel_w, r, Range1d(0, ylabel_w))
    p.axis.visible = False
    p.add_layout(Label(x=ylabel_w / 2, y=0.5, text=metric_names[r],
                       angle=math.pi / 2, text_align="center", text_baseline="middle",
                       text_font=FONT, text_font_size="18px", text_color=TXT))
    return p


def make_panel(r, c):
    ds = datasets[c]
    key = f"{ds}_{metric_keys[r]}"
    top, fh, bottom = rows_px[r]
    W, L = widths[c], left_pad[c]
    x_lo, x_hi = x_ranges[c]
    sx = (x_hi - x_lo) / (W - L - 1)          # data units per px
    p = bare_figure(W, r, Range1d(x_lo - L * sx, x_hi + sx))
    y_end = p.y_range.end

    # x axis drawn along the panel bottom
    xt = [t for t in x_ticks if x_lo <= t <= x_hi]
    style_axis(p.xaxis[0])
    p.xaxis.ticker = FixedTicker(ticks=xt)
    p.xaxis.major_label_overrides = {t: tick_text[t] for t in xt}
    p.xaxis.bounds = (x_lo, x_hi)
    p.xaxis.fixed_location = 0
    if r == 1:
        p.xaxis.axis_label = x_label

    # y axis drawn along the panel's left edge
    style_axis(p.yaxis[0])
    p.yaxis.ticker = FixedTicker(ticks=y_ticks)
    p.yaxis.fixed_location = x_lo
    p.yaxis.bounds = (0, 1)
    if c == 0:
        p.yaxis.major_label_overrides = {t: tick_text[t] for t in y_ticks}
    else:
        p.yaxis.major_label_overrides = {t: "" for t in y_ticks}

    gen, gat = panel_data[key]
    rg = p.scatter([v[0] for v in gen], [v[1] for v in gen], size=10,
                   fill_color=BLUE, line_color="white", line_width=0.8)

    a, b, x0, x1 = fits[key]
    breaks, dashes = line_styles[key]
    xs = [x0] + breaks + [x1]
    for i, d in enumerate(dashes):
        xa, xb = xs[i], xs[i + 1]
        p.line([xa, xb], [a + b * xa, a + b * xb], line_color="black",
               line_width=2, line_dash=d)

    rp = p.scatter([v[0] for v in gat], [v[1] for v in gat], size=10,
                   fill_color=PINK, line_color="white", line_width=0.8)

    hl = highlights[key]
    p.scatter([h[1] for h in hl], [h[2] for h in hl], size=10,
              fill_color=HL, line_color="white", line_width=0.8)

    # mask marks spilling above the panel, then the panel box
    p.add_layout(BoxAnnotation(left=x_lo, right=x_hi + sx, bottom=1, top=y_end,
                               fill_color="white", fill_alpha=1, line_color=None))
    p.add_layout(BoxAnnotation(left=x_lo, right=x_hi, bottom=0, top=1,
                               fill_alpha=0, line_color=SPINE, line_width=1))

    if r == 0:
        p.add_layout(Label(x=(x_lo + x_hi) / 2, y=1, y_offset=4, text=ds,
                           text_align="center", text_baseline="bottom",
                           text_font=FONT, text_font_size="18px", text_color=TXT))

    for name, hx, hy in hl:
        p.add_layout(Label(x=hx, y=hy, text=name, x_offset=-8, y_offset=0,
                           text_align="right", text_baseline="middle",
                           text_font=FONT, text_font_style="bold",
                           text_font_size="12px", text_color=HL,
                           background_fill_color="white",
                           background_fill_alpha=0.55))

    if r == 1 and c == 3:
        legend = Legend(items=[LegendItem(label=legend_labels[0], renderers=[rg]),
                               LegendItem(label=legend_labels[1], renderers=[rp])],
                        location=(L + 5, bottom + 6))
        legend.label_text_font = FONT
        legend.label_text_font_size = "11.5px"
        legend.glyph_width = 30
        legend.glyph_height = 20
        legend.label_height = 16
        legend.label_standoff = 5
        legend.spacing = -3
        legend.padding = 1
        legend.margin = 0
        legend.border_line_color = "#cccccc"
        legend.background_fill_alpha = 0.8
        p.add_layout(legend)
    return p


rows = []
for r in range(2):
    rows.append(row(make_ylabel(r), *[make_panel(r, c) for c in range(4)]))
layout = column(*rows)

open("out.html", "w").write(file_html(layout, INLINE))
